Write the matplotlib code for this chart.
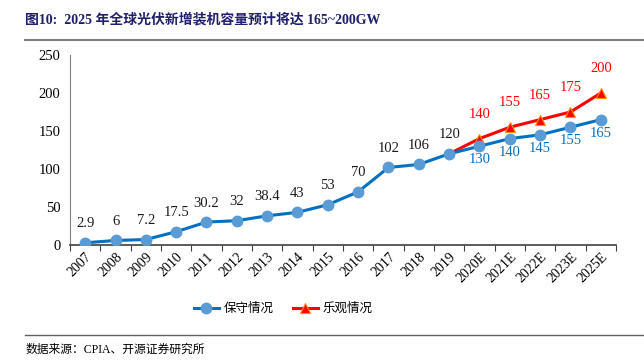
import matplotlib
matplotlib.use('Agg')
import matplotlib.pyplot as plt
import numpy as np

plt.rcParams['font.family'] = ['Liberation Serif', 'Noto Sans CJK SC']
plt.rcParams['font.size'] = 10.5

years = ['2007', '2008', '2009', '2010', '2011', '2012', '2013', '2014', '2015',
         '2016', '2017', '2018', '2019', '2020E', '2021E', '2022E', '2023E', '2025E']
conservative = [2.9, 6, 7.2, 17.5, 30.2, 32, 38.4, 43, 53, 70, 102, 106, 120,
                130, 140, 145, 155, 165]
optimistic_years = ['2019', '2020E', '2021E', '2022E', '2023E', '2025E']
optimistic = [120, 140, 155, 165, 175, 200]

BLUE_LINE = '#0070C0'
BLUE_MARK = '#5B9BD5'
RED = '#FF0000'
NAVY = '#1F1F6E'

fig = plt.figure(figsize=(6.44, 3.61), dpi=100)

# title + rules
fig.text(0.039, 0.945, '图10:  2025 年全球光伏新增装机容量预计将达 165~200GW',
         fontsize=10, fontweight='bold', color=NAVY, va='center', ha='left')
fig.add_artist(plt.Line2D([0.039, 1.0], [0.889, 0.889], color='#808080', lw=1.5,
                          transform=fig.transFigure))
fig.add_artist(plt.Line2D([0.039, 1.0], [0.072, 0.072], color='#606060', lw=1.0,
                          transform=fig.transFigure))
fig.text(0.039, 0.03, '数据来源：CPIA、开源证券研究所', fontsize=8.5, va='center', ha='left')

ax = fig.add_axes([0.1087, 0.3213, 0.8478, 0.5263])
x = np.arange(len(years))
xo = np.array([years.index(y) for y in optimistic_years])

ax.plot(x, conservative, color=BLUE_LINE, lw=2.2, marker='o', ms=7.5,
        markerfacecolor=BLUE_MARK, markeredgecolor=BLUE_MARK, label='保守情况', zorder=3)
ax.plot(xo, optimistic, color=RED, lw=2.2, marker='^', ms=6.5,
        markerfacecolor=RED, markeredgecolor='#FF8C00', markeredgewidth=0.8,
        markevery=list(range(1, len(xo))), label='乐观情况', zorder=2)

for i, v in enumerate(conservative):
    lbl = ('%g' % v)
    if i <= 12:
        ax.annotate(lbl, (x[i], v), xytext=(0, 9), textcoords='offset points',
                    ha='center', va='bottom', color='#1a1a1a', fontsize=10.5)
    else:
        ax.annotate(lbl, (x[i], v), xytext=(0, -5), textcoords='offset points',
                    ha='center', va='top', color=BLUE_LINE, fontsize=10.5)
for i in range(1, len(xo)):
    ax.annotate('%g' % optimistic[i], (xo[i], optimistic[i]), xytext=(0, 13),
                textcoords='offset points', ha='center', va='bottom', color=RED, fontsize=10.5)

ax.set_xlim(-0.5, len(years) - 0.5)
ax.set_ylim(0, 250)
ax.set_yticks(np.arange(0, 251, 50))
ax.set_xticks(np.arange(-0.5, len(years), 1.0))
ax.set_xticklabels([])
ax.set_xticks(x, minor=True)
ax.set_xticklabels(years, minor=True, rotation=45, ha='right', rotation_mode='anchor')
ax.tick_params(axis='x', which='minor', length=0, pad=4, labelsize=10)
ax.tick_params(axis='x', which='major', length=4, direction='out', color='#404040')
ax.tick_params(axis='y', length=0, pad=7)

for s in ['top', 'right']:
    ax.spines[s].set_visible(False)
ax.spines['left'].set_color('#808080')
ax.spines['bottom'].set_color('#404040')
ax.spines['bottom'].set_linewidth(1.2)

fig.legend(*ax.get_legend_handles_labels(), loc='center', bbox_to_anchor=(0.44, 0.144),
           ncol=2, frameon=False, handlelength=2.0, columnspacing=1.5, handletextpad=0.4,
           fontsize=9)

fig.savefig('out.png', dpi=100)
